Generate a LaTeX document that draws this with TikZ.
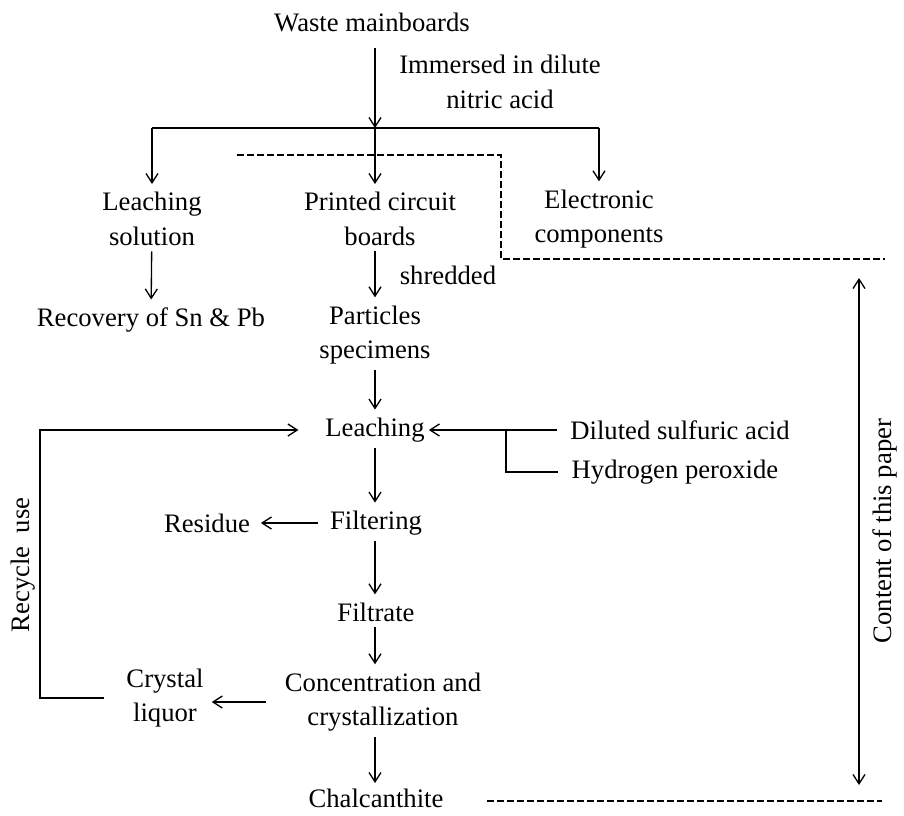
\documentclass[tikz,border=0pt]{standalone}
\usepackage{fontspec}
\setmainfont{Liberation Serif}
\usetikzlibrary{arrows.meta}
\tikzset{
  lbl/.style={align=center,inner sep=2pt,font=\fontsize{20}{26}\selectfont},
  flow/.style={-{Straight Barb[length=7pt,width=9pt]},line width=1pt,shorten <=2pt,shorten >=4pt},
  twoway/.style={{Straight Barb[length=7pt,width=9pt]}-{Straight Barb[length=7pt,width=9pt]},line width=1pt},
  plain/.style={line width=1pt},
  cut/.style={line width=1pt,dash pattern=on 5pt off 2.5pt}
}

\begin{document}
\begin{tikzpicture}[x=0.75pt,y=-0.75pt]
\useasboundingbox (0,0) rectangle (904,815);
\coordinate (spine) at (375,0);
\coordinate (loop) at (40,0);
\coordinate (split) at (375,128);
\coordinate (join) at (506,430);

% top part
\node[lbl] (waste) at (372,22) {Waste mainboards};
\node[lbl] (immersed) at (500,82) {Immersed in dilute\\nitric acid};
\node[lbl] (leachsol) at (152,219) {Leaching\\solution};
\node[lbl] (pcb) at (380,219) {Printed circuit\\boards};
\node[lbl] (elec) at (599,219) {Electronic\\components};
\node[lbl] (recovery) at (151,320) {Recovery of Sn \& Pb};
\node[lbl] (shredded) at (448,275) {shredded};
\node[lbl] (particles) at (375,335) {Particles\\specimens};

% leaching and after
\node[lbl] (leaching) at (375,430) {Leaching};
\node[lbl] (sulfuric) at (680,430) {Diluted sulfuric acid};
\node[lbl] (peroxide) at (675,472) {Hydrogen peroxide};
\node[lbl] (filtering) at (376,523) {Filtering};
\node[lbl] (residue) at (207,523) {Residue};
\node[lbl] (filtrate) at (376,612) {Filtrate};
\node[lbl] (conc) at (383,702) {Concentration and\\crystallization};
\node[lbl] (crystal) at (165,698) {Crystal\\liquor};
\node[lbl] (chalc) at (376,798) {Chalcanthite};
\node[lbl,rotate=90] (recycle) at (23,565) {Recycle~~use};
\node[lbl,rotate=90] (content) at (885,531) {Content of this paper};

\draw[flow,shorten <=10pt,shorten >=0pt] (waste.south -| spine) -- (split);
\draw[plain] (split -| leachsol) -- (split -| elec);
\draw[flow,shorten <=0pt] (split -| leachsol) -- (leachsol.north);
\draw[flow,shorten <=0pt] (split) -- (pcb.north -| spine);
\draw[flow,shorten <=0pt] (split -| elec) -- (elec.north);
\draw[flow] (leachsol) -- (recovery);
\draw[flow] (pcb.south -| spine) -- (particles.north -| spine);
\draw[flow] (particles.south -| spine) -- (leaching.north -| spine);
\draw[flow,shorten <=8pt,shorten >=1pt] (sulfuric.west) -- (leaching.east);
\draw[plain] (join) |- ([xshift=-8pt]peroxide.west);
\draw[flow] (leaching.south -| spine) -- (filtering.north -| spine);
\draw[flow,shorten <=7pt,shorten >=6pt] (filtering.west) -- (residue.east);
\draw[flow] (filtering.south -| spine) -- (filtrate.north -| spine);
\draw[flow] (filtrate.south -| spine) -- (conc.north -| spine);
\draw[flow,shorten <=12pt,shorten >=4pt] (conc.west) -- (conc.west -| crystal.east);
\draw[flow,shorten >=2pt] (conc.south -| spine) -- (chalc.north -| spine);
\draw[flow,shorten <=15pt,shorten >=18pt] (crystal.west) -| (loop |- leaching) -- (leaching.west);

% scope of this paper
\draw[cut] (237,155) -- (501,155) -- (501,259) -- (885,259);
\draw[cut] (487,801) -- (882,801);
\draw[twoway] (859,278) -- (859,785);
\end{tikzpicture}
\end{document}
